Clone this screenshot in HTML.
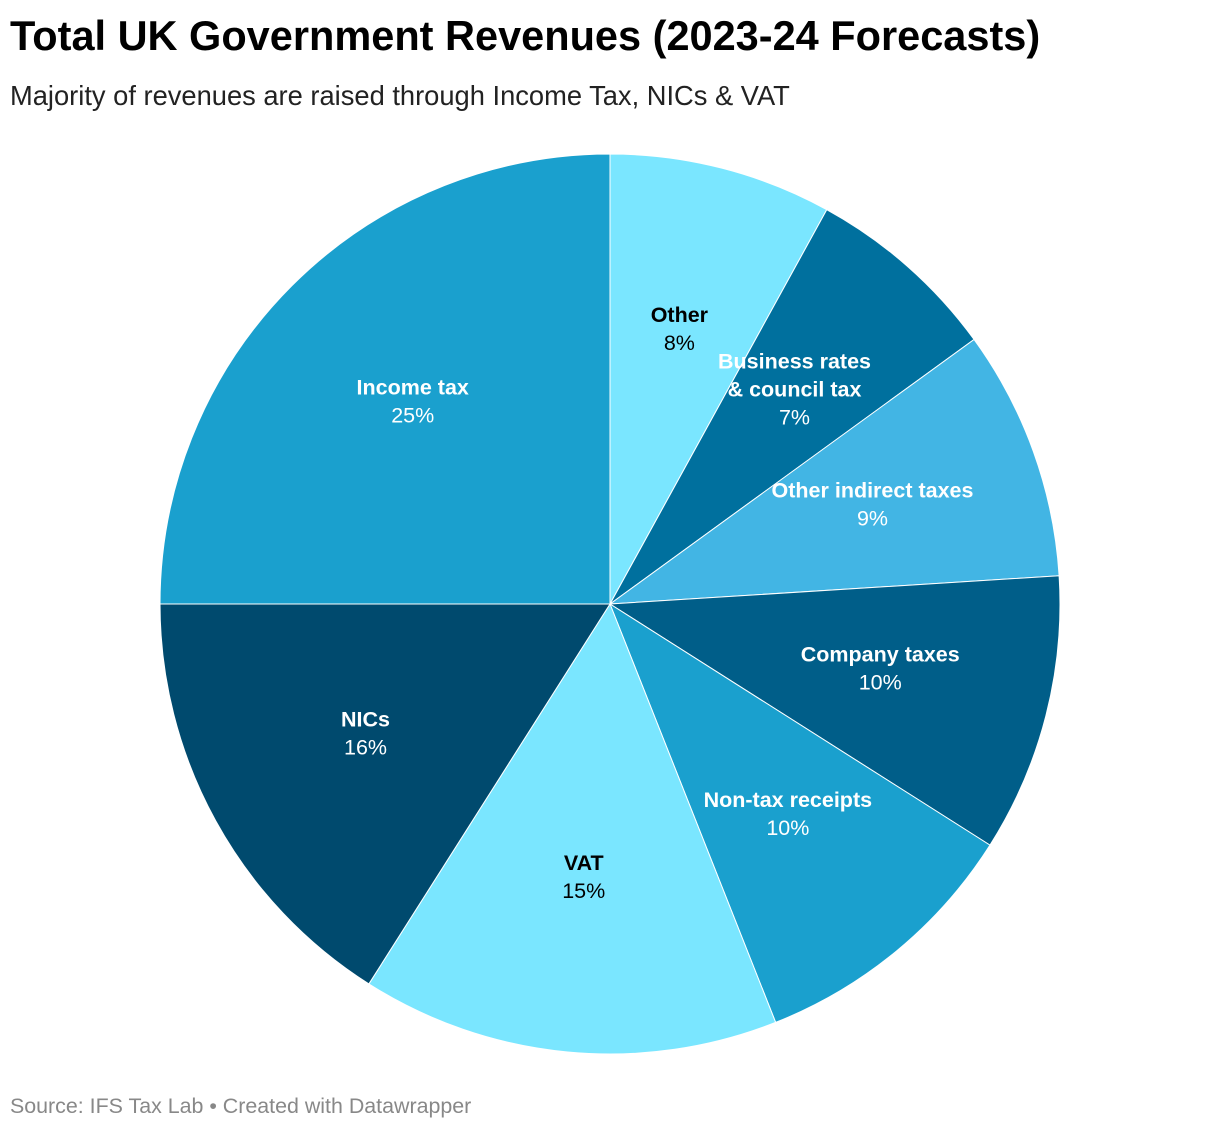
<!DOCTYPE html>
<html><head><meta charset="utf-8">
<style>
body{margin:0;background:#fff;width:1220px;height:1130px;overflow:hidden;font-family:"Liberation Sans",Roboto,sans-serif;}
#title{position:absolute;left:10px;top:12px;font-size:41.5px;font-weight:bold;color:#000;margin:0;white-space:nowrap}
#sub{position:absolute;left:10px;top:80px;font-size:27.3px;color:#222;white-space:nowrap}
#src{position:absolute;left:10px;top:1094px;font-size:21.4px;color:#888;white-space:nowrap}
svg{position:absolute;left:0;top:0}
</style></head><body>
<h1 id="title">Total UK Government Revenues (2023-24 Forecasts)</h1>
<div id="sub">Majority of revenues are raised through Income Tax, NICs &amp; VAT</div>
<div id="src">Source: IFS Tax Lab • Created with Datawrapper</div>
<svg id="chart" width="1220" height="1130"></svg>
<script>
const categories=["Other","Business rates|& council tax","Other indirect taxes","Company taxes","Non-tax receipts","VAT","NICs","Income tax"];
const values=[8,7,9,10,10,15,16,25];
const colors=["#7ae6ff","#00709e","#42b5e4","#005e89","#1aa0ce","#7ae6ff","#004a6e","#1aa0ce"];
const textColors=["#000","#fff","#fff","#fff","#fff","#000","#fff","#fff"];
const svg=document.getElementById('chart');
const NS="http://www.w3.org/2000/svg";
const cx=610,cy=604,R=450;
const total=values.reduce((a,b)=>a+b,0);
function pt(frac,r){const a=frac*2*Math.PI;return [cx+r*Math.sin(a),cy-r*Math.cos(a)];}
let cum=0;
values.forEach((v,i)=>{
  const s=cum/total,e=(cum+v)/total;cum+=v;
  const [x1,y1]=pt(s,R),[x2,y2]=pt(e,R);
  const p=document.createElementNS(NS,'path');
  p.setAttribute('d',`M${cx},${cy}L${x1},${y1}A${R},${R} 0 ${e-s>0.5?1:0} 1 ${x2},${y2}Z`);
  p.setAttribute('fill',colors[i]);p.setAttribute('stroke','#fff');p.setAttribute('stroke-width','1');
  
  
  svg.appendChild(p);
  const [lx,ly]=pt((s+e)/2,R*0.62);
  const t=document.createElementNS(NS,'text');
  t.setAttribute('x',lx);t.setAttribute('text-anchor','middle');t.setAttribute('font-size','21.5');
  t.setAttribute('fill',textColors[i]);
  
  
  const lines=categories[i].split('|');
  const y0=ly-(lines.length)*14+2;
  lines.forEach((ln,j)=>{const ts=document.createElementNS(NS,'tspan');ts.setAttribute('x',lx);ts.setAttribute('y',y0+j*28);ts.setAttribute('font-weight','bold');ts.textContent=ln;t.appendChild(ts);});
  const ts=document.createElementNS(NS,'tspan');ts.setAttribute('x',lx);ts.setAttribute('y',y0+lines.length*28);ts.textContent=v+'%';t.appendChild(ts);
  svg.appendChild(t);
});
</script>
</body></html>
